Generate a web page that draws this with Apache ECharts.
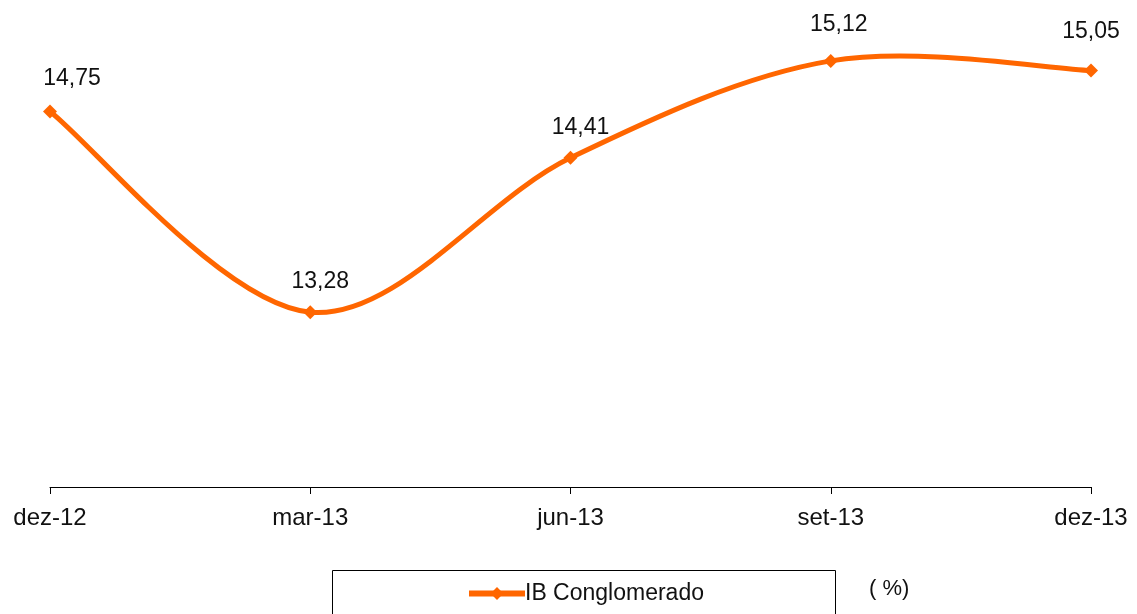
<!DOCTYPE html>
<html><head><meta charset="utf-8">
<script src="https://cdn.jsdelivr.net/npm/echarts@6/dist/echarts.min.js"></script>
<style>html,body{margin:0;padding:0;background:#fff}#c{width:1137px;height:614px}</style>
</head><body><div id="c"></div>
<script>
const categories = ['dez-12', 'mar-13', 'jun-13', 'set-13', 'dez-13'];
const values = [14.75, 13.28, 14.41, 15.12, 15.05];
const seriesName = 'IB Conglomerado';
const unitNote = '( %)';

const labelOffsets = [[22, -4], [10, -2], [10, -2], [8, -8], [0, -10]];
const ORANGE = '#FF6600';
const chart = echarts.init(document.getElementById('c'));
const font = '"Liberation Sans", Arial, sans-serif';

// Excel-like smoothed curve (Catmull-Rom Bezier) through points placed by the axes
function renderCurve(params, api) {
  if (params.dataIndex !== 0) return;
  const p = values.map((v, i) => api.coord([i, v]));
  const n = p.length;
  let d = 'M' + p[0][0] + ' ' + p[0][1];
  for (let i = 0; i < n - 1; i++) {
    const p0 = p[Math.max(i - 1, 0)], p1 = p[i], p2 = p[i + 1], p3 = p[Math.min(i + 2, n - 1)];
    const c1x = p1[0] + (p2[0] - p0[0]) / 6, c1y = p1[1] + (p2[1] - p0[1]) / 6;
    const c2x = p2[0] - (p3[0] - p1[0]) / 6, c2y = p2[1] - (p3[1] - p1[1]) / 6;
    d += ' C' + c1x + ' ' + c1y + ' ' + c2x + ' ' + c2y + ' ' + p2[0] + ' ' + p2[1];
  }
  return { type: 'path', shape: { pathData: d }, style: { fill: null, stroke: ORANGE, lineWidth: 5, lineJoin: 'round' } };
}

chart.setOption({
  animation: false,
  grid: { left: 50, right: 46, top: 9, bottom: 127 },
  xAxis: {
    type: 'category', data: categories, boundaryGap: false,
    axisLine: { lineStyle: { color: '#000', width: 1 } },
    axisTick: { alignWithLabel: true, length: 7, lineStyle: { color: '#000' } },
    axisLabel: { color: '#111', fontSize: 24, fontFamily: font, margin: 19 }
  },
  yAxis: { type: 'value', min: 12, max: 15.5, show: false, splitLine: { show: false } },
  legend: {
    data: [seriesName], left: 466, top: 582, padding: 0, itemWidth: 56, itemHeight: 16, itemGap: 0,
    lineStyle: { color: ORANGE, width: 6, opacity: 1 },
    itemStyle: { color: ORANGE },
    textStyle: { color: '#111', fontSize: 23, fontFamily: font, padding: [0, 0, 0, -5] }
  },
  graphic: [
    { type: 'rect', shape: { x: 332.5, y: 570.5, width: 503, height: 60 }, style: { fill: 'none', stroke: '#000', lineWidth: 1 } },
    { type: 'text', left: 869, top: 578, style: { text: unitNote, fill: '#111', font: '22px ' + font } }
  ],
  series: [
    {
      type: 'custom', name: 'curve', renderItem: renderCurve, silent: true, z: 1,
      data: [[0, values[0]]], encode: { x: 0, y: 1 }
    },
    {
      name: seriesName, type: 'line', z: 2,
      data: values.map((v, i) => ({ value: v, label: { offset: labelOffsets[i] } })),
      symbol: 'diamond', symbolSize: 14,
      lineStyle: { color: ORANGE, width: 5, opacity: 0 },
      itemStyle: { color: ORANGE },
      label: {
        show: true, position: 'top', distance: 10, color: '#111', fontSize: 23, fontFamily: font,
        formatter: p => p.value.toFixed(2).replace('.', ',')
      }
    }
  ]
});
</script></body></html>
